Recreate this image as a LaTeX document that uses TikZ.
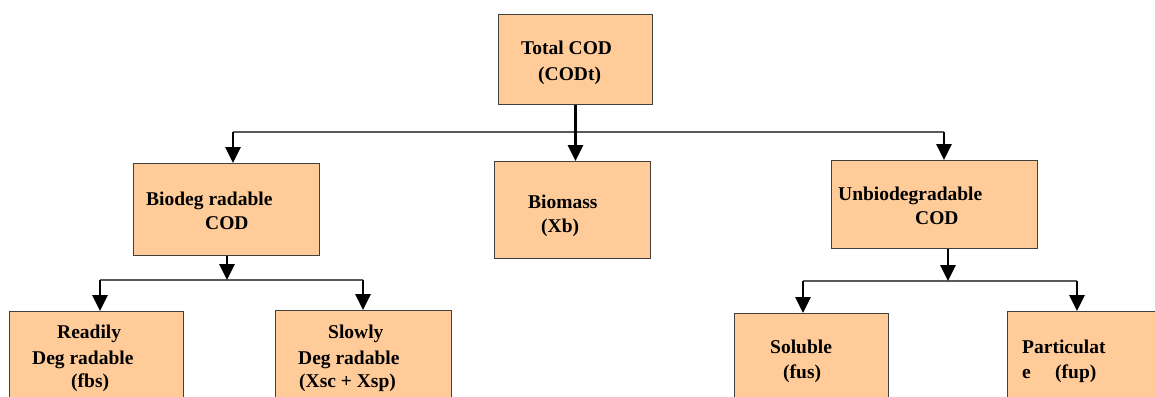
\documentclass[tikz,border=0pt]{standalone}
\usepackage{fontspec}
\setmainfont{Liberation Serif}
\usetikzlibrary{arrows.meta}
\definecolor{boxfill}{HTML}{FFCC99}
\begin{document}
\begin{tikzpicture}[x=1pt,y=-1pt,
  box/.style={draw=black!75, line width=1pt, fill=boxfill, inner sep=0pt, anchor=north west},
  txt/.style={anchor=base west, inner sep=0pt, font=\fontsize{19.5}{23}\selectfont\bfseries},
  bus/.style={draw=black!65, line width=1.6pt},
  arr/.style={draw=black, line width=2.8pt, -{Triangle[width=15pt,length=16pt]}}]
\clip (0,0) rectangle (1155,396);
\fill[white] (0,0) rectangle (1155,396);
% boxes
\node[box, minimum width=154pt, minimum height=90pt] (total) at (498,14) {};
\node[box, minimum width=156pt, minimum height=97pt] (biomass) at (494,161) {};
\node[box, minimum width=186pt, minimum height=92pt] (biodeg) at (133,163) {};
\node[box, minimum width=206pt, minimum height=88pt] (unbio) at (831,160) {};
\node[box, minimum width=174pt, minimum height=100pt] (readily) at (9,311) {};
\node[box, minimum width=176pt, minimum height=100pt] (slowly) at (275,310) {};
\node[box, minimum width=154pt, minimum height=100pt] (soluble) at (734,313) {};
\node[box, minimum width=160pt, minimum height=100pt] (partic) at (1007,311) {};
% texts
\node[txt] (t1) at (521,55) {Total COD};
\node[txt] (t2) at (538,80) {(CODt)};
\node[txt] (t3) at (528,208) {Biomass};
\node[txt] (t4) at (541,232) {(Xb)};
\node[txt] (t5) at (146,205) {Biodeg radable};
\node[txt] (t6) at (205,229) {COD};
\node[txt] (t7) at (838,200) {Unbiodegradable};
\node[txt] (t8) at (915,224) {COD};
\node[txt] (t9) at (57,338) {Readily};
\node[txt] (t10) at (32,364) {Deg radable};
\node[txt] (t11) at (71,387) {(fbs)};
\node[txt] (t12) at (328,338) {Slowly};
\node[txt] (t13) at (298,364) {Deg radable};
\node[txt] (t14) at (299,387) {(Xsc + Xsp)};
\node[txt] (t15) at (770,353) {Soluble};
\node[txt] (t16) at (783,378) {(fus)};
\node[txt] (t17) at (1022,353) {Particulat};
\node[txt] (t18) at (1022,378) {e};
\node[txt] (t19) at (1055,378) {(fup)};
% junctions
\coordinate (j1) at (233,132);
\coordinate (j2) at (944,132);
\coordinate (j3) at (227,280);
\coordinate (j4) at (100,280);
\coordinate (j5) at (363,280);
\coordinate (j6) at (948,281);
\coordinate (j7) at (803,281);
\coordinate (j8) at (1077,281);
% connectors
\draw[bus] (j1) -- (j2);
\draw[bus] (j4) -- (j5);
\draw[bus] (j7) -- (j8);
\draw[arr] (total.south) -- (total.south |- biomass.north);
\draw[arr] (j1) -- (j1 |- biodeg.north);
\draw[arr] (j2) -- (j2 |- unbio.north);
\draw[arr] (j3 |- biodeg.south) -- (j3);
\draw[arr] (j4) -- (j4 |- readily.north);
\draw[arr] (j5) -- (j5 |- slowly.north);
\draw[arr] (j6 |- unbio.south) -- (j6);
\draw[arr] (j7) -- (j7 |- soluble.north);
\draw[arr] (j8) -- (j8 |- partic.north);
\end{tikzpicture}
\end{document}
